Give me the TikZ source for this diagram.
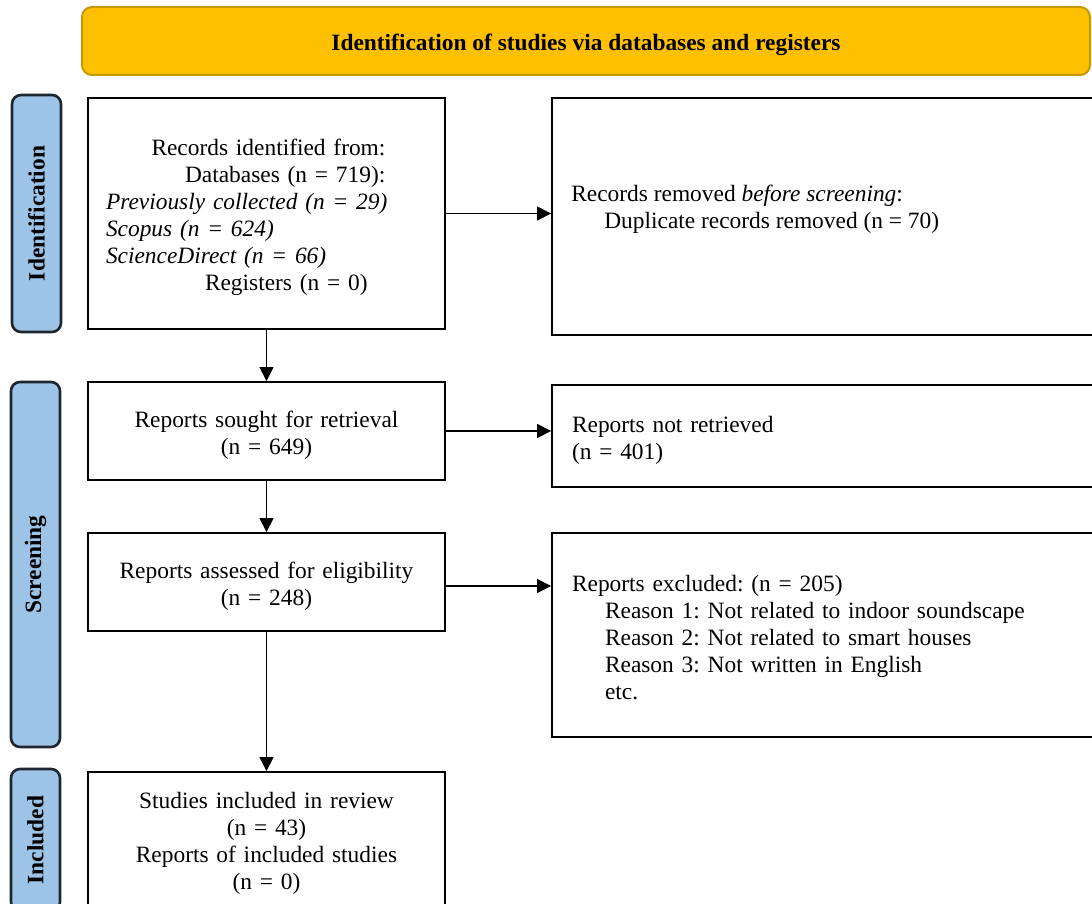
\documentclass[tikz,border=0pt]{standalone}
\usepackage{fontspec}
\setmainfont{Liberation Serif}
\usetikzlibrary{arrows.meta,positioning,calc}
\definecolor{bannerfill}{HTML}{FFC000}
\definecolor{bannerdraw}{HTML}{C59A00}
\definecolor{sidefill}{HTML}{9DC3E6}
\definecolor{sidedraw}{HTML}{1E2630}
\newcommand{\myTopStrut}{\rule{0pt}{24pt}}
\tikzset{
  every node/.style={font=\fontsize{23.4}{27}\selectfont\frenchspacing},
  box/.style={draw=black, line width=1.8pt, fill=white, inner sep=0pt},
  leftbox/.style={box, minimum width=357pt, text width=321pt, align=center},
  rightbox/.style={box, minimum width=558pt, text width=518pt, align=left},
  sidelabel/.style={draw=sidedraw, fill=sidefill, line width=2.6pt, rounded corners=9pt,
    rotate=90, inner sep=0pt, font=\fontsize{23.4}{27}\selectfont\bfseries},
  banner/.style={draw=bannerdraw, fill=bannerfill, line width=2pt, rounded corners=10pt,
    inner sep=0pt, font=\fontsize{23.4}{27}\selectfont\bfseries},
  flow/.style={line width=1.2pt, -{Triangle[length=14pt,width=14pt]}},
}
\begin{document}
\begin{tikzpicture}[x=1pt,y=-1pt]
\useasboundingbox (0,0) rectangle (1092,904);
\clip (0,0) rectangle (1092,904);
\fill[white] (0,0) rectangle (1092,904);

% banner
\node[banner, minimum width=1008pt, minimum height=68pt] (top) at (586,41)
  {\myTopStrut Identification of studies via databases and registers};

% phase labels
\node[sidelabel, minimum width=237pt, minimum height=49pt] (sid) at (36.5,213.5) {Identification};
\node[sidelabel, minimum width=365pt, minimum height=49pt] (sscr) at (35.5,564.5) {Screening};
\node[sidelabel, minimum width=142pt, minimum height=49pt] (sinc) at (35.5,840) {Included};

% left column
\node[leftbox, minimum height=231pt, align=left, text width=321pt] (b1) at (266.5,213.5)
  {\myTopStrut\hspace*{45.5pt}Records identified from:\\
   \hspace*{79pt}Databases (n = 719):\\
   \textit{Previously collected (n = 29)}\\
   \textit{Scopus (n = 624)}\\
   \textit{ScienceDirect (n = 66)}\\
   \hspace*{99pt}Registers (n = 0)};
\node[leftbox, minimum height=98pt] (b2) at (266.5,431)
  {\myTopStrut Reports sought for retrieval\\(n = 649)};
\node[leftbox, minimum height=98pt] (b3) at (266.5,582)
  {\myTopStrut Reports assessed for eligibility\\(n = 248)};
\node[leftbox, minimum height=138pt] (b4) at (266.5,841)
  {\rule{0pt}{20pt}Studies included in review\\(n = 43)\\Reports of included studies\\(n = 0)};

% right column
\node[rightbox, minimum height=237pt] (r1) at (831,216.5) {};
\node[anchor=west, align=left, inner sep=0pt] (r1t) at ([xshift=20pt,yshift=7.5pt]r1.west)
  {Records removed \textit{before screening}:\\
   \hspace*{33pt}Duplicate records removed (n = 70)};
\node[rightbox, minimum height=102pt] (r2) at (831,436)
  {\myTopStrut Reports not retrieved\\(n = 401)};
\node[rightbox, minimum height=204pt] (r3) at (831,635)
  {\rule{0pt}{22pt}Reports excluded: (n = 205)\\
   \hspace*{33pt}Reason 1: Not related to indoor soundscape\\
   \hspace*{33pt}Reason 2: Not related to smart houses\\
   \hspace*{33pt}Reason 3: Not written in English\\
   \hspace*{33pt}etc.};

% connectors
\draw[flow] (b1.south) -- (b2.north);
\draw[flow] (b2.south) -- (b3.north);
\draw[flow] (b3.south) -- (b4.north);
\draw[flow] (b1.east) -- (b1.east -| r1.west);
\draw[flow] (b2.east) -- (b2.east -| r2.west);
\draw[flow] ([yshift=-4pt]b3.east) -- ([yshift=-4pt]b3.east -| r3.west);
\end{tikzpicture}
\end{document}
